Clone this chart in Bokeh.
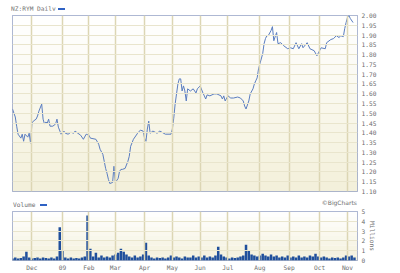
from bokeh.plotting import figure
from bokeh.layouts import column
from bokeh.models import FixedTicker, Range1d, BoxAnnotation, NumeralTickFormatter, Div
from bokeh.embed import file_html
from bokeh.resources import INLINE

# ---- data (trading-day index, price in NZD) ----
price_day = [0, 1, 2, 3, 4, 6, 7, 8, 9, 11, 12, 13, 14, 15, 17, 18, 19, 21, 22, 23,
             24, 25, 26, 27, 29, 31, 32, 33, 35, 37, 38, 40, 42, 44, 45, 47, 49, 51, 53, 55,
             56, 60, 62, 63, 65, 66, 67, 68, 69, 70, 72, 73, 74, 76, 77, 78, 79, 81, 83, 84,
             85, 87, 90, 92, 94, 95, 96, 97, 98, 99, 101, 104, 106, 110, 114, 115, 116, 117, 118, 119,
             120, 121, 122, 123, 124, 125, 126, 128, 130, 132, 133, 135, 137, 138, 139, 140, 142, 145, 147, 150,
             151, 152, 153, 155, 157, 159, 162, 164, 166, 167, 168, 170, 171, 173, 174, 175, 176, 177, 178, 180,
             181, 182, 183, 184, 186, 187, 188, 190, 191, 193, 195, 198, 200, 202, 204, 206, 208, 209, 212, 214,
             217, 219, 222, 225, 226, 229, 231, 233, 235, 236, 238, 239, 240, 241, 242, 243, 245]
price = [1.522, 1.501, 1.481, 1.434, 1.393, 1.373, 1.393, 1.357, 1.393, 1.378, 1.398, 1.347, 1.450, 1.460, 1.470, 1.486, 1.511, 1.547, 1.470, 1.445,
         1.455, 1.450, 1.470, 1.434, 1.434, 1.445, 1.470, 1.429, 1.393, 1.409, 1.398, 1.393, 1.403, 1.398, 1.409, 1.398, 1.388, 1.367, 1.393, 1.388,
         1.373, 1.367, 1.342, 1.316, 1.290, 1.254, 1.218, 1.193, 1.162, 1.141, 1.146, 1.229, 1.146, 1.167, 1.203, 1.213, 1.213, 1.218, 1.254, 1.280,
         1.331, 1.367, 1.398, 1.414, 1.409, 1.373, 1.357, 1.419, 1.460, 1.398, 1.409, 1.398, 1.409, 1.393, 1.393, 1.419, 1.475, 1.547, 1.599, 1.650,
         1.676, 1.676, 1.614, 1.640, 1.614, 1.563, 1.625, 1.614, 1.625, 1.604, 1.625, 1.640, 1.604, 1.589, 1.573, 1.594, 1.589, 1.599, 1.599, 1.589,
         1.573, 1.589, 1.563, 1.589, 1.578, 1.578, 1.583, 1.578, 1.563, 1.537, 1.522, 1.563, 1.599, 1.625, 1.650, 1.666, 1.681, 1.727, 1.753, 1.805,
         1.856, 1.882, 1.897, 1.897, 1.923, 1.943, 1.871, 1.913, 1.856, 1.861, 1.846, 1.830, 1.835, 1.830, 1.861, 1.830, 1.856, 1.835, 1.861, 1.830,
         1.820, 1.794, 1.835, 1.830, 1.861, 1.877, 1.882, 1.897, 1.887, 1.897, 1.892, 1.933, 1.964, 1.990, 2.000, 1.985, 1.964]

# volume in millions, one value per two trading days
volume = [0.2, 0.3, 0.2, 0.25, 0.4, 0.9, 0.3, 0.2, 0.25, 0.3,
          0.2, 0.3, 0.25, 0.2, 0.3, 0.2, 0.4, 3.4, 1.0, 0.3,
          0.2, 0.3, 0.2, 0.25, 0.2, 0.3, 0.4, 4.6, 1.2, 0.4,
          0.8, 0.3, 0.5, 0.3, 0.4, 0.3, 0.5, 0.6, 0.8, 1.2,
          0.9, 0.6, 0.4, 0.3, 0.5, 0.3, 0.4, 0.6, 1.8, 0.5,
          0.3, 0.2, 0.3, 0.25, 0.3, 0.2, 0.3, 0.5, 0.3, 0.4,
          0.3, 0.2, 0.4, 0.3, 0.3, 0.5, 0.3, 0.4, 0.3, 0.5,
          0.3, 0.4, 0.3, 0.5, 1.4, 0.6, 0.4, 0.3, 0.2, 0.3,
          0.25, 0.3, 0.4, 0.5, 1.6, 1.0, 0.6, 0.5, 0.4, 0.5,
          0.7, 0.5, 0.4, 0.6, 0.4, 0.5, 0.3, 0.4, 0.3, 0.5,
          0.3, 0.4, 0.3, 0.5, 0.3, 0.4, 0.3, 0.5, 0.4, 0.7,
          0.4, 0.3, 0.4, 0.3, 0.2, 0.3, 0.25, 0.3, 0.2, 0.3,
          0.5, 0.4, 0.5, 0.3]
volume_day = list(range(0, 2 * len(volume), 2))

month_start = [14, 36, 55, 74, 95, 115, 135, 155, 178, 199, 221, 241]
month_labels = ["Dec", "09", "Feb", "Mar", "Apr", "May", "Jun", "Jul", "Aug", "Sep", "Oct", "Nov"]
price_ticks = [round(1.10 + 0.05 * i, 2) for i in range(19)]
volume_ticks = [0, 1, 2, 3, 4, 5]

# ---- style ----
FONT = "DejaVu Sans Mono"
FS = "6.2px"
TXT = "#6e6e6e"
LINE = "#5a7dc0"
BAR = "#1f4f9c"
KEY = "#2f62c4"
VGRID = "#dcd6b4"
HGRID = "#e9e5cd"
OUTLINE = "#93a1c4"
TOP_BG = (255, 255, 255)
BOT_BG = (243, 240, 218)

x_range = Range1d(0, 248.2)


def shade(frac):
    c = [round(TOP_BG[i] + (BOT_BG[i] - TOP_BG[i]) * frac) for i in range(3)]
    return "#%02x%02x%02x" % tuple(c)


def style(p):
    p.outline_line_color = OUTLINE
    p.outline_line_width = 1
    p.background_fill_color = "white"
    p.border_fill_color = "white"
    p.xgrid.ticker = FixedTicker(ticks=month_start)
    p.xgrid.grid_line_color = VGRID
    p.xgrid.grid_line_width = 1.5
    p.ygrid.grid_line_color = HGRID
    p.ygrid.grid_line_width = 1
    p.xgrid.level = "glyph"
    p.ygrid.level = "glyph"
    for ax in p.yaxis:
        ax.axis_line_color = None
        ax.major_tick_line_color = None
        ax.minor_tick_line_color = None
        ax.major_tick_out = 0
        ax.major_tick_in = 0
        ax.major_label_text_font = FONT
        ax.major_label_text_font_size = FS
        ax.major_label_text_color = TXT
        ax.major_label_standoff = 4


def bands(p, lo, hi, n):
    step = (hi - lo) / n
    for i in range(n):
        p.add_layout(BoxAnnotation(bottom=lo + i * step, top=lo + (i + 1) * step,
                                   fill_color=shade(1 - (i + 0.5) / n), fill_alpha=1,
                                   line_color=None, level="underlay"))


def span(text, left, top, size=FS, font=FONT, right=None):
    pos = f"left:{left}px;" if right is None else f"right:{right}px;"
    return (f'<span style="position:absolute;{pos}top:{top}px;font-family:\'{font}\';'
            f'font-size:{size};line-height:{size};color:{TXT};white-space:nowrap;">{text}</span>')


def key(left, top):
    return (f'<span style="position:absolute;left:{left}px;top:{top}px;width:7px;height:2px;'
            f'background:{KEY};"></span>')


def header(items, height):
    html = f'<div style="position:relative;width:400px;height:{height}px;">' + "".join(items) + "</div>"
    return Div(text=html, width=400, height=height, margin=(0, 0, 0, 0))


# ---- header of price panel ----
head1 = header([span("NZ:RYM Daily", 11, 4), key(58, 6)], 10)

# ---- price panel ----
p1 = figure(width=400, height=187, x_range=x_range, y_range=Range1d(1.10, 2.00),
            y_axis_location="right", toolbar_location=None, output_backend="svg",
            min_border_left=12, min_border_right=43, min_border_top=5, min_border_bottom=6)
style(p1)
p1.xaxis.visible = False
p1.yaxis.ticker = FixedTicker(ticks=price_ticks)
p1.yaxis.formatter = NumeralTickFormatter(format="0.00")
p1.ygrid.ticker = FixedTicker(ticks=price_ticks)
bands(p1, 1.10, 2.00, 18)
p1.line(price_day, price, line_color=LINE, line_width=1)

# ---- header of volume panel ----
head2 = header([span("Volume", 13, 3), key(40, 5),
                span("©BigCharts", 0, 1, size="6px", font="DejaVu Sans", right=43)], 10)

# ---- volume panel ----
p2 = figure(width=400, height=66, x_range=x_range, y_range=Range1d(0, 5),
            y_axis_location="right", toolbar_location=None, output_backend="svg",
            min_border_left=12, min_border_right=43, min_border_top=4, min_border_bottom=11)
style(p2)
p2.yaxis.ticker = FixedTicker(ticks=volume_ticks)
p2.ygrid.ticker = FixedTicker(ticks=volume_ticks)
p2.yaxis.axis_label = "Millions"
p2.yaxis.axis_label_text_font = FONT
p2.yaxis.axis_label_text_font_size = FS
p2.yaxis.axis_label_text_font_style = "normal"
p2.yaxis.axis_label_text_color = TXT
p2.yaxis.axis_label_standoff = 1
p2.xaxis.ticker = FixedTicker(ticks=month_start)
p2.xaxis.major_label_overrides = {m: l for m, l in zip(month_start, month_labels)}
p2.xaxis.axis_line_color = None
p2.xaxis.major_tick_line_color = None
p2.xaxis.minor_tick_line_color = None
p2.xaxis.major_tick_out = 0
p2.xaxis.major_tick_in = 0
p2.xaxis.axis_label_standoff = 0
p2.xaxis.major_label_text_font = FONT
p2.xaxis.major_label_text_font_size = FS
p2.xaxis.major_label_text_color = TXT
p2.xaxis.major_label_standoff = 3
bands(p2, 0, 5, 10)
p2.vbar(x=volume_day, top=volume, width=1.8, bottom=0, fill_color=BAR, line_color=None)

layout = column(head1, p1, head2, p2, spacing=0)
open("out.html", "w").write(file_html(layout, INLINE))
